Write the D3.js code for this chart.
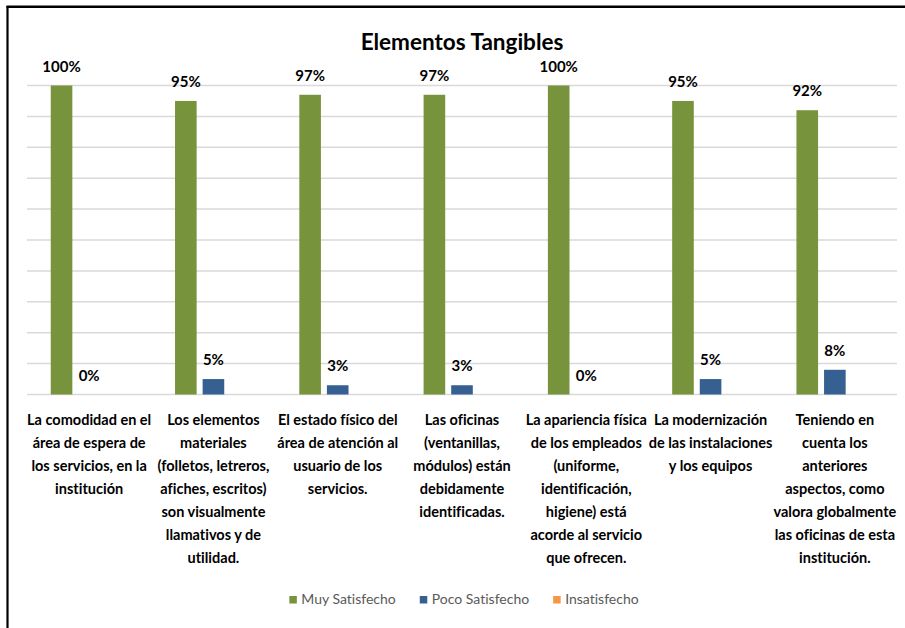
<!DOCTYPE html>
<html><head><meta charset="utf-8">
<script src="https://cdn.jsdelivr.net/npm/d3@7"></script>
<style>
html,body{margin:0;padding:0;background:#fff;}
svg{display:block;}
text{font-family:Lato,"Open Sans",sans-serif;font-variant-ligatures:none;}
</style></head>
<body><svg id="chart" width="905" height="628"></svg>
<script>
const title = "Elementos Tangibles";
const categories = [
  ["La comodidad en el","área de espera de","los servicios, en la","institución"],
  ["Los elementos","materiales","(folletos, letreros,","afiches, escritos)","son visualmente","llamativos y de","utilidad."],
  ["El estado físico del","área de atención al","usuario de los","servicios."],
  ["Las oficinas","(ventanillas,","módulos) están","debidamente","identificadas."],
  ["La apariencia física","de los empleados","(uniforme,","identificación,","higiene) está","acorde al servicio","que ofrecen."],
  ["La modernización","de las instalaciones","y los equipos"],
  ["Teniendo en","cuenta los","anteriores","aspectos, como","valora globalmente","las oficinas de esta","institución."]
];
const seriesNames = ["Muy Satisfecho","Poco Satisfecho","Insatisfecho"];
const muySatisfecho = [100,95,97,97,100,95,92];
const pocoSatisfecho = [0,5,3,3,0,5,8];
const insatisfecho = [0,0,0,0,0,0,0];
const showLabels = [true,true,false];
const colors = ["#77933c","#376092","#f79646"];
const yTicks = [0,10,20,30,40,50,60,70,80,90,100];

const seriesValues = [muySatisfecho,pocoSatisfecho,insatisfecho];
const svg = d3.select("#chart");

// frame
svg.append("line").attr("x1",7.5).attr("x2",7.5).attr("y1",6).attr("y2",628).attr("stroke","#000").attr("stroke-width",2.2);
svg.append("line").attr("x1",6.5).attr("x2",905).attr("y1",6.8).attr("y2",6.8).attr("stroke","#000").attr("stroke-width",2.4);

const plotL=27,plotR=897,plotT=85.5,plotB=394.5;
const idx = d3.range(categories.length);
const x0 = d3.scaleBand().domain(idx).range([plotL,plotR]).paddingInner(0.382).paddingOuter(0.191);
const x1 = d3.scaleBand().domain(d3.range(seriesNames.length)).range([0,x0.bandwidth()]).paddingInner(0.217);
const y = d3.scaleLinear().domain([0,100]).range([plotB,plotT]);

// gridlines
svg.append("g").selectAll("line").data(yTicks).join("line")
  .attr("x1",plotL).attr("x2",plotR)
  .attr("y1",d=>y(d)).attr("y2",d=>y(d))
  .attr("stroke","#d9d9d9").attr("stroke-width",1.5);

// bars
const groups = svg.append("g").selectAll("g").data(idx).join("g")
  .attr("transform",i=>`translate(${x0(i)},0)`);
groups.selectAll("rect").data(i=>seriesValues.map((vals,s)=>({s,v:vals[i]})))
  .join("rect")
  .attr("x",d=>x1(d.s)).attr("width",x1.bandwidth())
  .attr("y",d=>y(d.v)).attr("height",d=>y(0)-y(d.v))
  .attr("fill",d=>colors[d.s]);
groups.selectAll("text").data(i=>seriesValues.map((vals,s)=>({s,v:vals[i]})).filter(d=>showLabels[d.s]))
  .join("text")
  .attr("x",d=>x1(d.s)+x1.bandwidth()/2)
  .attr("y",d=>y(d.v)-14)
  .attr("text-anchor","middle")
  .attr("font-size",15).attr("font-weight",700).attr("fill","#000")
  .text(d=>d.v+"%");

// category labels
const cat = svg.append("g").selectAll("text").data(idx).join("text")
  .attr("text-anchor","middle")
  .attr("font-size",14.5).attr("font-weight",700).attr("fill","#000");
cat.selectAll("tspan").data(i=>categories[i].map(l=>({i,l}))).join("tspan")
  .attr("x",d=>x0(d.i)+x0.bandwidth()/2)
  .attr("y",(d,k)=>425+k*23)
  .text(d=>d.l);

// title
svg.append("text").attr("x",462).attr("y",50).attr("text-anchor","middle")
  .attr("font-size",22.5).attr("font-weight",700).attr("fill","#000").text(title);

// legend
const leg = svg.append("g");
const items = leg.selectAll("g").data(seriesNames).join("g");
items.append("rect").attr("width",7.5).attr("height",7.5).attr("y",-8).attr("fill",(d,i)=>colors[i]);
items.append("text").attr("x",12).attr("y",0).attr("font-size",14).attr("fill","#595959").text(d=>d);
let xpos=0;
items.each(function(){
  const w = d3.select(this).select("text").node().getComputedTextLength();
  d3.select(this).attr("transform",`translate(${xpos},604)`);
  xpos += 12 + w + 24;
});
const total = xpos-24;
leg.attr("transform",`translate(${464-total/2},0)`);
</script></body></html>
